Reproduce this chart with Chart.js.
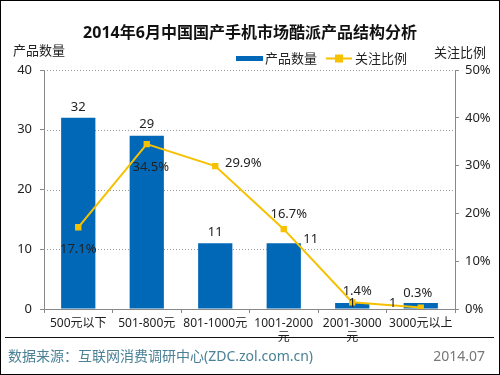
<!DOCTYPE html>
<html>
<head>
<meta charset="utf-8">
<script src="https://cdn.jsdelivr.net/npm/chart.js@4.4.0/dist/chart.umd.min.js"></script>
<style>
  html, body { margin: 0; padding: 0; background: #fff; }
  #wrap { position: relative; width: 500px; height: 375px; box-sizing: border-box; border: 1px solid #000; }
  canvas { position: absolute; left: -1px; top: -1px; }
</style>
</head>
<body>
<div id="wrap"><canvas id="chart" width="500" height="375"></canvas></div>
<script>
// chart data
const categories = ['500元以下', '501-800元', '801-1000元', ['1001-2000', '元'], ['2001-3000', '元'], '3000元以上'];
const productCount = [32, 29, 11, 11, 1, 1];
const attentionRatio = [17.1, 34.5, 29.9, 16.7, 1.4, 0.3];
const countTicks = [0, 10, 20, 30, 40];
const ratioTicks = [0, 10, 20, 30, 40, 50];

const BLUE = '#0068b7';
const GOLD = '#f6c100';
const FONT = '"Noto Sans", "Noto Sans CJK SC", sans-serif';

// label nudges (pixels) so labels sit like the original
const barLabelShift = [[0, -11], [0, -11], [0, -11], [27, -4], [0, 0], [-28, 0]];
const lineLabelShift = [[0, 22], [4, 23], [28, -3], [5, -15], [5, -11], [-3, -14]];

const decorPlugin = {
  id: 'decor',
  afterDraw(chart) {
    const ctx = chart.ctx;
    ctx.save();
    // title
    ctx.fillStyle = '#111';
    ctx.font = 'bold 16px ' + FONT;
    ctx.textAlign = 'center';
    ctx.textBaseline = 'middle';
    ctx.fillText('2014年6月中国国产手机市场酷派产品结构分析', 250, 33);

    // axis titles
    ctx.font = '13px ' + FONT;
    ctx.fillStyle = '#222';
    ctx.textAlign = 'left';
    ctx.fillText('产品数量', 13, 51);
    ctx.textAlign = 'right';
    ctx.fillText('关注比例', 486, 53);

    // legend
    ctx.textAlign = 'left';
    ctx.fillStyle = BLUE;
    ctx.fillRect(236, 56, 27, 5);
    ctx.fillStyle = '#222';
    ctx.fillText('产品数量', 265, 59);
    ctx.strokeStyle = GOLD;
    ctx.lineWidth = 2;
    ctx.beginPath();
    ctx.moveTo(326, 58.5);
    ctx.lineTo(352, 58.5);
    ctx.stroke();
    ctx.fillStyle = GOLD;
    ctx.fillRect(335, 54.5, 8, 8);
    ctx.fillStyle = '#222';
    ctx.fillText('关注比例', 355, 59);

    // footer
    ctx.strokeStyle = '#111';
    ctx.lineWidth = 1;
    ctx.beginPath();
    ctx.moveTo(5, 337.5);
    ctx.lineTo(494, 337.5);
    ctx.stroke();
    ctx.fillStyle = '#4b8196';
    ctx.font = '14px ' + FONT;
    ctx.fillText('数据来源：互联网消费调研中心(ZDC.zol.com.cn)', 8, 357);
    ctx.textAlign = 'right';
    ctx.fillStyle = '#777';
    ctx.fillText('2014.07', 485, 357);

    // value labels
    ctx.font = '13px ' + FONT;
    ctx.fillStyle = '#222';
    ctx.textAlign = 'center';
    chart.getDatasetMeta(1).data.forEach((bar, i) => {
      const s = barLabelShift[i];
      ctx.fillText(String(productCount[i]), bar.x + s[0], bar.y + s[1]);
    });
    chart.getDatasetMeta(0).data.forEach((pt, i) => {
      const s = lineLabelShift[i];
      ctx.fillText(attentionRatio[i].toFixed(1) + '%', pt.x + s[0], pt.y + s[1]);
    });
    ctx.restore();
  }
};

new Chart(document.getElementById('chart').getContext('2d'), {
  data: {
    labels: categories,
    datasets: [
      {
        type: 'line',
        label: '关注比例',
        data: attentionRatio,
        yAxisID: 'yR',
        borderColor: GOLD,
        backgroundColor: GOLD,
        borderWidth: 2,
        pointStyle: 'rect',
        pointRadius: 4.5,
        pointBorderWidth: 0,
        order: 0
      },
      {
        type: 'bar',
        label: '产品数量',
        data: productCount,
        yAxisID: 'yL',
        backgroundColor: BLUE,
        categoryPercentage: 1,
        barPercentage: 0.5,
        order: 1
      }
    ]
  },
  options: {
    responsive: false,
    animation: false,
    layout: { padding: { top: 70, left: 0, right: 0, bottom: 0 } },
    plugins: { legend: { display: false }, title: { display: false }, tooltip: { enabled: false } },
    scales: {
      x: {
        offset: true,
        grid: { offset: true, drawOnChartArea: false, color: '#888', tickLength: 4 },
        border: { color: '#888' },
        ticks: { color: '#222', font: { size: 12, family: FONT }, maxRotation: 0, autoSkip: false, padding: 3 },
        afterFit(s) { s.height = 66; }
      },
      yL: {
        position: 'left',
        min: 0,
        max: 40,
        afterBuildTicks(s) { s.ticks = countTicks.map(v => ({ value: v })); },
        grid: { drawOnChartArea: false, color: '#888', tickLength: 4 },
        border: { color: '#888' },
        ticks: { color: '#222', font: { size: 13, family: FONT }, padding: 8 },
        afterFit(s) { s.width = 44; }
      },
      yR: {
        position: 'right',
        min: 0,
        max: 50,
        afterBuildTicks(s) { s.ticks = ratioTicks.map(v => ({ value: v })); },
        grid: { drawOnChartArea: false, color: '#888', tickLength: 4 },
        border: { color: '#888' },
        ticks: { color: '#222', font: { size: 13, family: FONT }, padding: 6, callback: v => v + '%' },
        afterFit(s) { s.width = 45; }
      }
    }
  },
  plugins: [decorPlugin, {
    id: 'dottedGrid',
    beforeDatasetsDraw(chart) {
      // dotted horizontal grid from the left axis
      const ctx = chart.ctx;
      const y = chart.scales.yL;
      const a = chart.chartArea;
      ctx.save();
      ctx.strokeStyle = '#999';
      ctx.lineWidth = 1;
      ctx.setLineDash([1, 2]);
      countTicks.forEach(v => {
        if (v === 0) return;
        const py = Math.round(y.getPixelForValue(v)) + 0.5;
        ctx.beginPath();
        ctx.moveTo(a.left, py);
        ctx.lineTo(a.right, py);
        ctx.stroke();
      });
      ctx.restore();
    }
  }]
});
</script>
</body>
</html>
